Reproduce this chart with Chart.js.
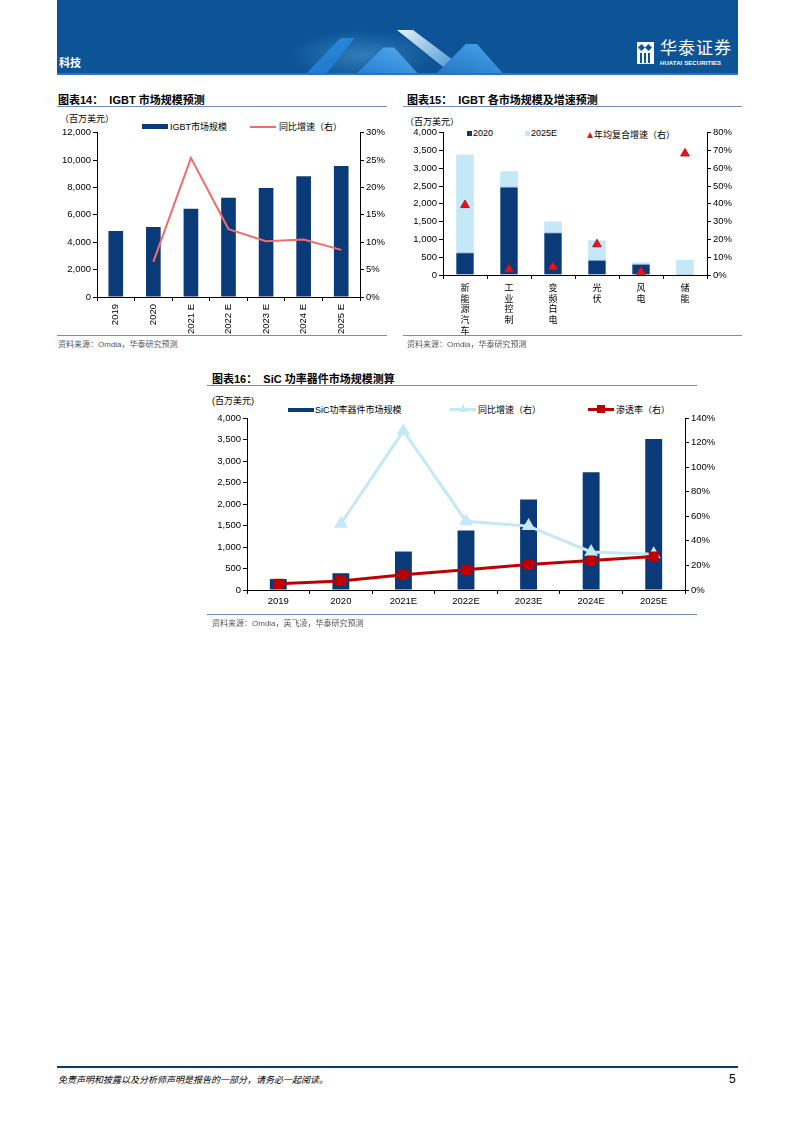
<!DOCTYPE html>
<html>
<head>
<meta charset="utf-8">
<script src="https://cdn.jsdelivr.net/npm/chart.js@4.4.1/dist/chart.umd.min.js"></script>
<style>
  body { margin:0; width:793px; height:1122px; background:#fff; position:relative; overflow:hidden;
         font-family:"Liberation Sans","Noto Sans CJK SC",sans-serif; color:#000; }
  .abs { position:absolute; }
  .title { font-size:11px; font-weight:bold; white-space:nowrap; }
  .rule { height:1px; background:#6f8fbf; }
  .src { font-size:8px; color:#555; white-space:nowrap; }
  .unit { font-size:9px; white-space:nowrap; }
  .lg { font-size:9px; white-space:nowrap; display:flex; align-items:center; }
  canvas { display:block; }
</style>
</head>
<body>

<!-- header band -->
<div class="abs" style="left:57px;top:0;width:681px;height:75px;background:#0c5495;overflow:hidden">
  <div class="abs" style="left:230px;top:30px;width:150px;height:50px;border-radius:50%;background:radial-gradient(ellipse at center,rgba(120,200,255,0.35),rgba(12,84,149,0) 70%)"></div>
  <div class="abs" style="left:245px;top:38px;width:70px;height:40px;background:linear-gradient(160deg,#2d8fe0,#1a6fc4);clip-path:polygon(0 100%,55% 0,75% 0,30% 100%)"></div>
  <div class="abs" style="left:295px;top:40px;width:70px;height:38px;background:linear-gradient(200deg,#5fb3f0,#1e78cf);clip-path:polygon(0 100%,45% 20%,60% 20%,100% 100%)"></div>
  <div class="abs" style="left:340px;top:30px;width:80px;height:48px;background:linear-gradient(135deg,#e9f3fb,#6aa9dc 60%,#2a73bd);clip-path:polygon(0 0,20% 0,100% 100%,75% 100%)"></div>
  <div class="abs" style="left:375px;top:44px;width:75px;height:34px;background:linear-gradient(200deg,#4aa6ea,#1f6fc0);clip-path:polygon(0 100%,45% 0,60% 0,100% 100%)"></div>
  <div class="abs" style="left:0;bottom:0;width:681px;height:2px;background:#2f74b8"></div>
  <div class="abs" style="left:2px;top:54px;color:#fff;font-size:11px;font-weight:bold;font-family:'Noto Sans CJK SC'">科技</div>
  <div class="abs" style="left:580px;top:42px;width:17px;height:22px;background:#fff">
    <div class="abs" style="left:2px;top:3px;width:5px;height:5px;background:#0c5495;transform:rotate(45deg)"></div>
    <div class="abs" style="left:9px;top:3px;width:5px;height:5px;background:#0c5495;transform:rotate(45deg)"></div>
    <div class="abs" style="left:3px;top:11px;width:2px;height:10px;background:#0c5495"></div>
    <div class="abs" style="left:7px;top:11px;width:2px;height:10px;background:#0c5495"></div>
    <div class="abs" style="left:11px;top:11px;width:2px;height:10px;background:#0c5495"></div>
  </div>
  <div class="abs" style="left:603px;top:37px;color:#fff;font-size:17px;font-family:'Noto Sans CJK SC';letter-spacing:1px;line-height:20px">华泰证券</div>
  <div class="abs" style="left:603px;top:60px;color:#fff;font-size:6px;font-weight:bold;letter-spacing:0.1px">HUATAI SECURITIES</div>
</div>

<!-- chart 14 -->
<div class="abs title" style="left:58px;top:91px">图表14：&nbsp;&nbsp;IGBT 市场规模预测</div>
<div class="abs rule" style="left:57px;top:106px;width:330px"></div>
<div class="abs unit" style="left:60px;top:112px">（百万美元）</div>
<div class="abs lg" style="left:142px;top:120px"><span style="display:inline-block;width:26px;height:5px;background:#0b3a78;margin-right:2px"></span>IGBT市场规模</div>
<div class="abs lg" style="left:250px;top:120px"><span style="display:inline-block;width:26px;height:2px;background:#f26b6e;margin-right:3px"></span>同比增速（右）</div>
<div class="abs" style="left:57px;top:125px;width:330px;height:210px"><canvas id="c14" width="330" height="210"></canvas></div>
<div class="abs rule" style="left:57px;top:335px;width:330px"></div>
<div class="abs src" style="left:58px;top:338px">资料来源：Omdia，华泰研究预测</div>

<!-- chart 15 -->
<div class="abs title" style="left:407px;top:91px">图表15：&nbsp;&nbsp;IGBT 各市场规模及增速预测</div>
<div class="abs rule" style="left:403px;top:106px;width:339px"></div>
<div class="abs unit" style="left:405px;top:115px">（百万美元）</div>
<div class="abs lg" style="left:467px;top:128px"><span style="display:inline-block;width:5px;height:5px;background:#0b3a78;margin-right:1px"></span>2020</div>
<div class="abs lg" style="left:525px;top:128px"><span style="display:inline-block;width:5px;height:5px;background:#c5e8f8;margin-right:1px"></span>2025E</div>
<div class="abs lg" style="left:587px;top:128px"><span style="display:inline-block;width:0;height:0;border-left:3.5px solid transparent;border-right:3.5px solid transparent;border-bottom:6px solid #e8141b;margin-right:1px"></span>年均复合增速（右）</div>
<div class="abs" style="left:402px;top:125px;width:345px;height:212px"><canvas id="c15" width="345" height="212"></canvas></div>
<div class="abs rule" style="left:403px;top:335px;width:339px"></div>
<div class="abs src" style="left:407px;top:338px">资料来源：Omdia，华泰研究预测</div>

<!-- chart 16 -->
<div class="abs title" style="left:212px;top:370px">图表16：&nbsp;&nbsp;SiC 功率器件市场规模测算</div>
<div class="abs rule" style="left:207px;top:385px;width:490px"></div>
<div class="abs unit" style="left:212px;top:394px">(百万美元)</div>
<div class="abs lg" style="left:288px;top:403px"><span style="display:inline-block;width:26px;height:4px;background:#0b3a78;margin-right:1px"></span>SiC功率器件市场规模</div>
<div class="abs lg" style="left:450px;top:403px"><span style="position:relative;display:inline-block;width:26px;height:3px;background:#c5e8f8;margin-right:2px"><span style="position:absolute;left:9px;top:-4px;width:0;height:0;border-left:4px solid transparent;border-right:4px solid transparent;border-bottom:8px solid #c5e8f8"></span></span>同比增速（右）</div>
<div class="abs lg" style="left:588px;top:403px"><span style="position:relative;display:inline-block;width:26px;height:3px;background:#c00000;margin-right:2px"><span style="position:absolute;left:9px;top:-3px;width:8px;height:8px;background:#c00000"></span></span>渗透率（右）</div>
<div class="abs" style="left:207px;top:410px;width:525px;height:205px"><canvas id="c16" width="525" height="205"></canvas></div>
<div class="abs rule" style="left:207px;top:614px;width:490px"></div>
<div class="abs src" style="left:212px;top:617px">资料来源：Omdia，英飞凌，华泰研究预测</div>

<!-- footer -->
<div class="abs" style="left:57px;top:1066px;width:681px;height:2px;background:#0c3773"></div>
<div class="abs" style="left:58px;top:1073px;font-size:9px;font-style:italic;font-family:'Noto Sans CJK SC'">免责声明和披露以及分析师声明是报告的一部分，请务必一起阅读。</div>
<div class="abs" style="left:729px;top:1072px;font-size:12px">5</div>

<script>
// chart data
const igbtYears  = ['2019', '2020', '2021 E', '2022 E', '2023 E', '2024 E', '2025 E'];
const igbtMarket = [4820, 5110, 6450, 7250, 7970, 8820, 9570];
const igbtGrowth = [null, 6.4, 25.4, 12.4, 10.2, 10.5, 8.6];

const segNames = [['新','能','源','汽','车'], ['工','业','控','制'], ['变','频','白','电'], ['光','伏'], ['风','电'], ['储','能']];
const seg2020  = [640, 2485, 1205, 430, 315, 25];
const seg2025  = [3385, 2915, 1505, 980, 350, 420];
const segCagr  = [39.3, 3.2, 4.6, 17.3, 1.8, 68.3];

const sicYears       = ['2019', '2020', '2021E', '2022E', '2023E', '2024E', '2025E'];
const sicMarket      = [255, 390, 895, 1385, 2105, 2740, 3510];
const sicGrowth      = [null, 54, 129.5, 56, 52, 31, 29];
const sicPenetration = [5, 7.4, 12.4, 16.4, 20.8, 24, 27.2];

// colors
const COL_NAVY   = "#0b3a78";
const COL_SKY    = "#c5e8f8";
const COL_SALMON = "#f26b6e";
const COL_RED    = "#c00000";
const COL_TRI    = "#e8141b";

Chart.defaults.font.family = '"Liberation Sans", "Noto Sans CJK SC", sans-serif';
Chart.defaults.font.size = 9;
Chart.defaults.color = "#000";

const thou = v => v.toLocaleString('en-US');
const pct  = v => v + '%';

// axis helper
function yAxis(pos, min, max, step, fmt, width){
  return {
    position: pos, min: min, max: max,
    border: { color: "#000", width: 1 },
    grid: { drawOnChartArea: false, tickLength: 4, color: "#000" },
    ticks: { stepSize: step, callback: fmt, padding: 2, font: { size: 9.5 } },
    afterFit: s => { s.width = width; }
  };
}
function xAxis(height, extra){
  return Object.assign({
    border: { color: "#000", width: 1 },
    grid: { drawOnChartArea: false, offset: true, tickLength: 4, color: "#000" },
    ticks: { font: { size: 9.5 }, padding: 2 },
    afterFit: s => { s.height = height; }
  }, extra || {});
}
const baseOpts = {
  responsive: false, animation: false, devicePixelRatio: 1,
  plugins: { legend: { display: false }, tooltip: { enabled: false } }
};

// chart 14
new Chart(document.getElementById("c14"), {
  data: {
    labels: igbtYears,
    datasets: [
      { type: "line", data: igbtGrowth, yAxisID: "y1", borderColor: COL_SALMON, borderWidth: 2,
        pointRadius: 0, tension: 0, order: 0 },
      { type: "bar", data: igbtMarket, yAxisID: "y", backgroundColor: COL_NAVY,
        barPercentage: 0.39, categoryPercentage: 1, order: 1 }
    ]
  },
  options: Object.assign({}, baseOpts, {
    layout: { padding: { top: 7, left: 0, right: 0, bottom: 0 } },
    scales: {
      x: xAxis(38, { ticks: { font: { size: 9.5 }, padding: 3, minRotation: 90, maxRotation: 90 } }),
      y: yAxis("left", 0, 12000, 2000, thou, 40),
      y1: yAxis("right", 0, 30, 5, pct, 27)
    }
  })
});

// chart 15 (bars overlap: 2020 drawn in front of 2025E)
new Chart(document.getElementById("c15"), {
  data: {
    labels: segNames,
    datasets: [
      { type: "scatter", data: segCagr, yAxisID: "y1", showLine: false, pointStyle: "triangle",
        pointRadius: 5, backgroundColor: COL_TRI, borderColor: "#c81018", borderWidth: 1, order: 0 },
      { type: "bar", data: seg2020, yAxisID: "y", backgroundColor: COL_NAVY, borderColor: "#9bbbd8",
        borderWidth: { top: 1, left: 0, right: 0, bottom: 0 },
        barPercentage: 0.4, categoryPercentage: 1, grouped: false, order: 1 },
      { type: "bar", data: seg2025, yAxisID: "y", backgroundColor: COL_SKY,
        barPercentage: 0.4, categoryPercentage: 1, grouped: false, order: 2 }
    ]
  },
  options: Object.assign({}, baseOpts, {
    layout: { padding: { top: 7, left: 0, right: 0, bottom: 0 } },
    scales: {
      x: xAxis(62, { type: "category", offset: true,
        ticks: { font: { size: 9, lineHeight: 1.2, family: '"Noto Sans CJK SC"' }, padding: 3,
                 minRotation: 0, maxRotation: 0, autoSkip: false } }),
      y: yAxis("left", 0, 4000, 500, thou, 41),
      y1: yAxis("right", 0, 80, 10, pct, 40)
    }
  })
});

// chart 16
new Chart(document.getElementById("c16"), {
  data: {
    labels: sicYears,
    datasets: [
      { type: "line", data: sicPenetration, yAxisID: "y1", borderColor: COL_RED, borderWidth: 3,
        pointStyle: "rect", pointRadius: 5, pointBackgroundColor: COL_RED, pointBorderColor: COL_RED,
        tension: 0, order: 0 },
      { type: "line", data: sicGrowth, yAxisID: "y1", borderColor: COL_SKY, borderWidth: 3,
        pointStyle: "triangle", pointRadius: 5, pointBackgroundColor: COL_SKY, pointBorderColor: COL_SKY,
        tension: 0, order: 1 },
      { type: "bar", data: sicMarket, yAxisID: "y", backgroundColor: COL_NAVY,
        barPercentage: 0.27, categoryPercentage: 1, order: 2 }
    ]
  },
  options: Object.assign({}, baseOpts, {
    layout: { padding: { top: 3, left: 0, right: 0, bottom: 0 } },
    scales: {
      x: xAxis(25),
      y: yAxis("left", 0, 4000, 500, thou, 40),
      y1: yAxis("right", 0, 140, 20, pct, 47)
    }
  })
});
</script>
</body>
</html>
